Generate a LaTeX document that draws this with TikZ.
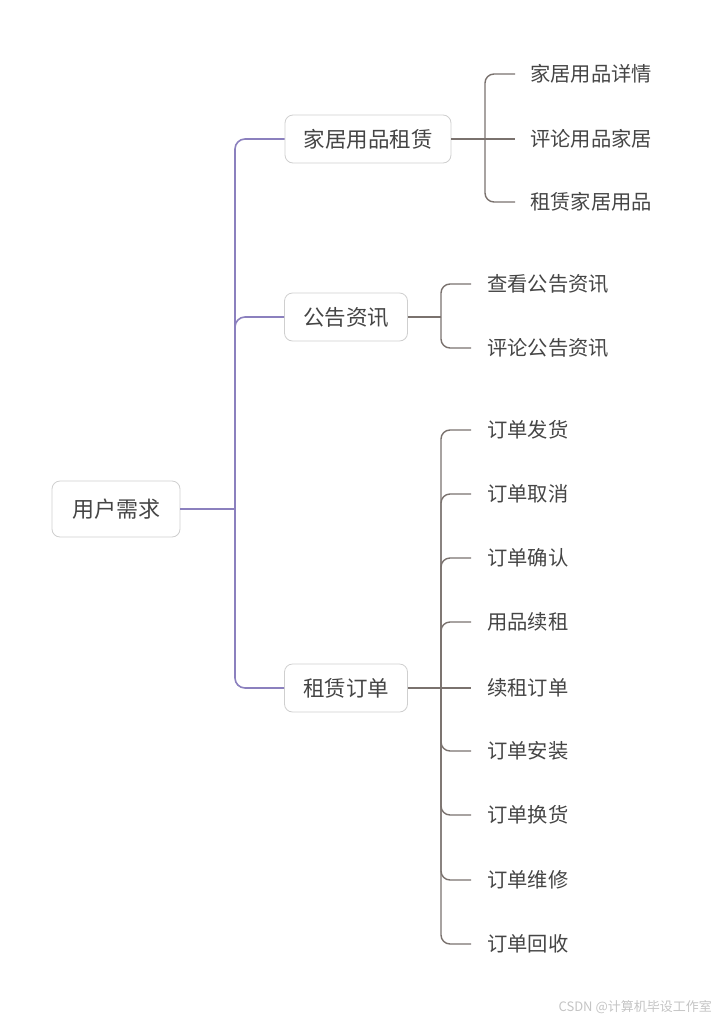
\documentclass[tikz,border=0pt]{standalone}
\usepackage{fontspec}
\setmainfont{Noto Sans CJK SC}
\definecolor{txt}{HTML}{454545}
\definecolor{purp}{HTML}{8B80BE}
\definecolor{gline}{HTML}{7A726E}
\definecolor{bord}{HTML}{CFCFCF}
\definecolor{wm}{HTML}{C4C4C4}
\begin{document}
\begin{tikzpicture}[x={(1pt,0)},y={(0,-1pt)},
  rootbox/.style={draw=bord,line width=0.8pt,rounded corners=8pt,fill=white,text=txt,
    font=\fontsize{22}{26}\selectfont,inner xsep=20pt,minimum height=56pt,anchor=center},
  topicbox/.style={draw=bord,line width=0.8pt,rounded corners=8pt,fill=white,text=txt,
    font=\fontsize{21.5}{25}\selectfont,inner xsep=18.5pt,minimum height=48pt,anchor=center},
  leaf/.style={text=txt,font=\fontsize{20.3}{24}\selectfont,inner sep=0pt,anchor=west},
  pline/.style={draw=purp,line width=1.6pt,rounded corners=10pt},
  gl/.style={draw=gline,line width=1.4pt,rounded corners=9pt}]
\useasboundingbox (0,0) rectangle (722,1020);

\node[rootbox] (root) at (116,509) {用户需求};
\node[topicbox] (t1) at (368,139) {家居用品租赁};
\node[topicbox] (t2) at (346,317) {公告资讯};
\node[topicbox] (t3) at (346,688) {租赁订单};

\coordinate (trunk) at (235,509);
\draw[pline] (root.east) -- (trunk);
\draw[pline] (t1.west) -| (trunk);
\draw[pline] (t2.west) -| (trunk);
\draw[pline] (t3.west) -| (trunk);

% group 1
\node[leaf] (a1) at (530,74) {家居用品详情};
\node[leaf] (a2) at (530,139) {评论用品家居};
\node[leaf] (a3) at (530,202) {租赁家居用品};
\coordinate (j1) at (485,139);
\draw[gl] (t1.east) -- (j1);
\foreach \n in {a1,a3} \draw[gl] (j1) |- ([xshift=-15pt]\n.west);
\draw[gl] (j1) -- ([xshift=-15pt]a2.west);

% group 2
\node[leaf] (b1) at (487,284) {查看公告资讯};
\node[leaf] (b2) at (487,348) {评论公告资讯};
\coordinate (j2) at (441,317);
\draw[gl] (t2.east) -- (j2);
\foreach \n in {b1,b2} \draw[gl] (j2) |- ([xshift=-16pt]\n.west);

% group 3
\node[leaf] (c1) at (487,430) {订单发货};
\node[leaf] (c2) at (487,494) {订单取消};
\node[leaf] (c3) at (487,558) {订单确认};
\node[leaf] (c4) at (487,622) {用品续租};
\node[leaf] (c5) at (487,688) {续租订单};
\node[leaf] (c6) at (487,751) {订单安装};
\node[leaf] (c7) at (487,815) {订单换货};
\node[leaf] (c8) at (487,880) {订单维修};
\node[leaf] (c9) at (487,944) {订单回收};
\coordinate (j3) at (441,688);
\draw[gl] (t3.east) -- (j3);
\foreach \n in {c1,c2,c3,c4,c6,c7,c8,c9} \draw[gl] (j3) |- ([xshift=-16pt]\n.west);
\draw[gl] (j3) -- ([xshift=-16pt]c5.west);

\node[text=wm,font=\fontsize{13}{15}\selectfont,anchor=east,inner sep=0pt] (wmk) at (712,1007) {CSDN @计算机毕设工作室};
\end{tikzpicture}
\end{document}
